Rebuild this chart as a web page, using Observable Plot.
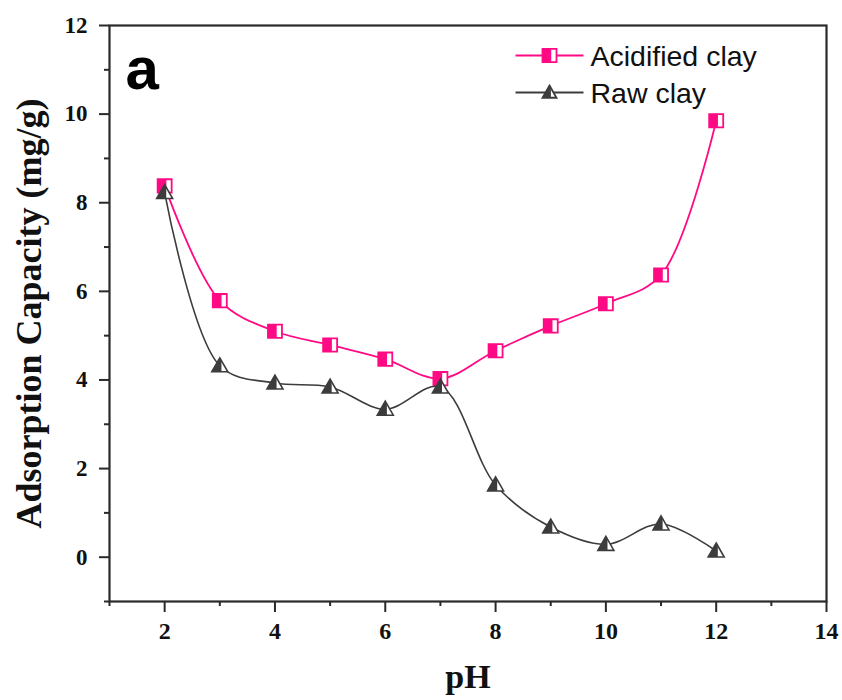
<!DOCTYPE html>
<html>
<head>
<meta charset="utf-8">
<script src="https://cdn.jsdelivr.net/npm/d3@7"></script>
<script src="https://cdn.jsdelivr.net/npm/@observablehq/plot@0.6"></script>
<style>
  html, body { margin: 0; padding: 0; background: #fff; }
  #chart { width: 842px; height: 700px; }
</style>
</head>
<body>
<div id="chart"></div>
<script>
// ---- data ----
const pH = [2, 3, 4, 5, 6, 7, 8, 9, 10, 11, 12];
const acidified = [8.38, 5.79, 5.10, 4.79, 4.47, 4.03, 4.66, 5.22, 5.72, 6.37, 9.85];
const raw = [8.23, 4.32, 3.93, 3.84, 3.34, 3.84, 1.63, 0.68, 0.29, 0.75, 0.14];
const seriesNames = ["Acidified clay", "Raw clay"];
const xMajorTicks = [2, 4, 6, 8, 10, 12, 14];
const xMinorTicks = [1, 3, 5, 7, 9, 11, 13];
const yMajorTicks = [0, 2, 4, 6, 8, 10, 12];
const yMinorTicks = [-1, 1, 3, 5, 7, 9, 11];
const xLabel = "pH";
const yLabel = "Adsorption Capacity (mg/g)";
const panelLabel = "a";

const pink = "#ff0a84";
const gray = "#3c3c3c";
const axisColor = "#2a2a2a";
const serif = "'Liberation Serif', 'Times New Roman', serif";
const sans = "'Liberation Sans', Arial, sans-serif";

const acidData = pH.map((x, i) => ({pH: x, v: acidified[i]}));
const rawData = pH.map((x, i) => ({pH: x, v: raw[i]}));

// ---- custom symbols ----
const rOf = size => Math.sqrt(size / Math.PI);
const squareFrame = {draw(ctx, size) { const r = rOf(size); ctx.rect(-r, -r * 0.95, 2 * r, 1.9 * r); }};
const squareHalf = {draw(ctx, size) { const r = rOf(size); ctx.rect(-r, -r * 0.95, 1.25 * r, 1.9 * r); }};
const triFull = {draw(ctx, size) {
  const r = rOf(size);
  ctx.moveTo(0, -r); ctx.lineTo(r, 0.75 * r); ctx.lineTo(-r, 0.75 * r); ctx.closePath();
}};
const triHalf = {draw(ctx, size) {
  const r = rOf(size), c = 0.2 * r, yc = -r + (c / r) * 1.75 * r;
  ctx.moveTo(0, -r); ctx.lineTo(c, yc); ctx.lineTo(c, 0.75 * r); ctx.lineTo(-r, 0.75 * r); ctx.closePath();
}};
const hline = {draw(ctx, size) { const r = rOf(size); ctx.moveTo(-r, 0); ctx.lineTo(r, 0); }};

// legend helper marks (positioned relative to the frame)
function legendItem(name, i, color, frameSym, halfSym, frameStroke, halfFill) {
  const dy = 30 + i * 37;
  return [
    Plot.dot([name], {frameAnchor: "top-left", dx: 440, dy, symbol: hline, r: 34, stroke: color, strokeWidth: 2}),
    Plot.dot([name], {frameAnchor: "top-left", dx: 440, dy, symbol: frameSym, r: 7, fill: "white", stroke: frameStroke, strokeWidth: 1.8}),
    Plot.dot([name], {frameAnchor: "top-left", dx: 440, dy, symbol: halfSym, r: 7, fill: halfFill, stroke: "none"}),
    Plot.text([name], {frameAnchor: "top-left", dx: 481, dy: dy + 1, text: d => d, textAnchor: "start", lineAnchor: "middle",
      fontFamily: sans, fontWeight: "normal", fontSize: 28.5, fill: "#111"})
  ];
}

const chart = Plot.plot({
  width: 842,
  height: 700,
  marginLeft: 109,
  marginRight: 16,
  marginTop: 25,
  marginBottom: 99,
  style: {background: "white", overflow: "visible"},
  x: {domain: [1, 14]},
  y: {domain: [-1, 12]},
  marks: [
    // axes (ticks)
    Plot.axisX({ticks: xMajorTicks, tickSize: 11, stroke: axisColor, strokeWidth: 2, text: null, label: null}),
    Plot.axisX({ticks: xMinorTicks, tickSize: 5, stroke: axisColor, strokeWidth: 2, text: null, label: null}),
    Plot.axisY({ticks: yMajorTicks, tickSize: 10, stroke: axisColor, strokeWidth: 2, text: null, label: null}),
    Plot.axisY({ticks: yMinorTicks, tickSize: 5, stroke: axisColor, strokeWidth: 2, text: null, label: null}),
    Plot.frame({stroke: axisColor, strokeWidth: 2.2}),
    // tick labels
    Plot.text(xMajorTicks, {x: d => d, frameAnchor: "bottom", dy: 30, text: d => String(d), textAnchor: "middle", lineAnchor: "middle",
      fontFamily: serif, fontWeight: "bold", fontSize: 24, fill: "#111"}),
    Plot.text(yMajorTicks, {y: d => d, frameAnchor: "left", dx: -22, text: d => String(d), textAnchor: "end", lineAnchor: "middle",
      fontFamily: serif, fontWeight: "bold", fontSize: 23, fill: "#111"}),
    // axis titles
    Plot.text([xLabel], {frameAnchor: "bottom", dy: 76, text: d => d, textAnchor: "middle", lineAnchor: "middle",
      fontFamily: serif, fontWeight: "bold", fontSize: 34, fill: "#111"}),
    Plot.text([yLabel], {frameAnchor: "left", dx: -80, rotate: -90, text: d => d, textAnchor: "middle", lineAnchor: "middle",
      fontFamily: serif, fontWeight: "bold", fontSize: 36, fill: "#111"}),
    // panel letter
    Plot.text([panelLabel], {frameAnchor: "top-left", dx: 16, dy: 44, text: d => d, textAnchor: "start", lineAnchor: "middle",
      fontFamily: sans, fontWeight: "bold", fontSize: 60, fill: "#000"}),
    // acidified series
    Plot.line(acidData, {x: "pH", y: "v", curve: "catmull-rom", stroke: pink, strokeWidth: 1.8}),
    Plot.dot(acidData, {x: "pH", y: "v", symbol: squareFrame, r: 7, fill: "white", stroke: pink, strokeWidth: 1.8}),
    Plot.dot(acidData, {x: "pH", y: "v", symbol: squareHalf, r: 7, fill: pink, stroke: "none"}),
    // raw series
    Plot.line(rawData, {x: "pH", y: "v", curve: "catmull-rom", stroke: gray, strokeWidth: 1.6}),
    Plot.dot(rawData, {x: "pH", y: "v", symbol: triFull, r: 8, fill: "white", stroke: gray, strokeWidth: 1.6}),
    Plot.dot(rawData, {x: "pH", y: "v", symbol: triHalf, r: 8, fill: gray, stroke: "none"}),
    // legend
    ...legendItem(seriesNames[0], 0, pink, squareFrame, squareHalf, pink, pink),
    ...legendItem(seriesNames[1], 1, gray, triFull, triHalf, gray, gray)
  ]
});

document.getElementById("chart").appendChild(chart);
</script>
</body>
</html>
